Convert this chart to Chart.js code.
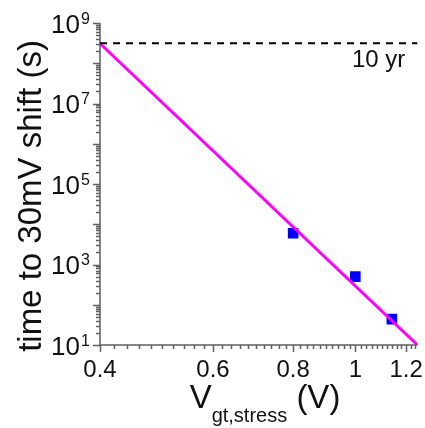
<!DOCTYPE html>
<html>
<head>
<meta charset="utf-8">
<script src="https://cdn.jsdelivr.net/npm/chart.js@4.4.1/dist/chart.umd.min.js"></script>
<style>
  html, body { margin: 0; padding: 0; background: #fff; }
  #wrap { width: 425px; height: 428px; }
</style>
</head>
<body>
<div id="wrap"><canvas id="myChart" width="425" height="428"></canvas></div>
<script>
// measured stress voltages and time to a 30 mV shift
const stressV = [0.8, 1.0, 1.14];
const shiftTime = [6000, 500, 44];

// power-law fit, extrapolated down to low voltage
const fitV = [0.4, 1.25];
const fitTime = [3.1e8, 10];

// ten years in seconds
const tenYears = 3.156e8;

// axis ticks
const xMajor = [0.4, 0.6, 0.8, 1, 1.2];
const yLabelPowers = [1, 3, 5, 7, 9];
const xRange = [0.4, 1.25];
const yRange = [1e1, 1e9];

const FONT = "'Liberation Sans', Arial, sans-serif";
const AXIS_COLOR = '#5f5f5f';

function pts(xs, ys) {
    return xs.map((x, i) => ({ x: x, y: ys[i] }));
}

// hand-drawn axes: log ticks, superscript labels, subscripted title
const axesPlugin = {
    id: 'axes',
    beforeDatasetsDraw(chart) {
        const ctx = chart.ctx;
        const xs = chart.scales.x, ys = chart.scales.y;
        const a = chart.chartArea;
        ctx.save();
        ctx.strokeStyle = AXIS_COLOR;
        ctx.lineWidth = 1.5;

        // axis lines
        ctx.beginPath();
        ctx.moveTo(a.left, a.top);
        ctx.lineTo(a.left, a.bottom);
        ctx.lineTo(a.right, a.bottom);
        ctx.stroke();

        // y ticks: every decade plus 2..9
        ctx.beginPath();
        for (let p = 1; p <= 9; p++) {
            for (let k = 1; k <= 9; k++) {
                const v = k * Math.pow(10, p);
                if (v > yRange[1]) break;
                const y = Math.round(ys.getPixelForValue(v)) + 0.5;
                const len = k === 1 ? 7 : 4;
                ctx.moveTo(a.left, y);
                ctx.lineTo(a.left - len, y);
            }
        }
        // x ticks every 0.02, longer on the labelled values
        for (let i = 20; i <= 62; i++) {
            const v = i / 50;
            const x = Math.round(xs.getPixelForValue(v)) + 0.5;
            const major = i % 10 === 0;
            ctx.moveTo(x, a.bottom);
            ctx.lineTo(x, a.bottom + (major ? 7 : 4));
        }
        ctx.stroke();

        ctx.fillStyle = '#111';

        // y labels 10^n
        yLabelPowers.forEach(p => {
            const y = ys.getPixelForValue(Math.pow(10, p));
            ctx.font = '26px ' + FONT;
            ctx.textAlign = 'right';
            ctx.textBaseline = 'alphabetic';
            ctx.fillText('10', 80, y + 9.5);
            ctx.font = '16px ' + FONT;
            ctx.textAlign = 'left';
            ctx.fillText(String(p), 81, y + 0.5);
        });

        // x labels
        ctx.font = '24px ' + FONT;
        ctx.textAlign = 'center';
        xMajor.forEach(v => {
            ctx.fillText(String(v), xs.getPixelForValue(v), 377);
        });

        // y title
        ctx.save();
        ctx.translate(41, 196);
        ctx.rotate(-Math.PI / 2);
        ctx.font = '33px ' + FONT;
        ctx.textAlign = 'center';
        ctx.fillText('time to 30mV shift (s)', 0, 0);
        ctx.restore();

        // x title: V with subscript, then unit
        ctx.textAlign = 'left';
        const big = '33px ' + FONT, small = '20px ' + FONT;
        ctx.font = big;
        const wV = ctx.measureText('V').width;
        const wU = ctx.measureText(' (V)').width;
        ctx.font = small;
        const wS = ctx.measureText('gt,stress').width;
        let x0 = 265 - (wV + wS + wU) / 2;
        ctx.font = big;
        ctx.fillText('V', x0, 408);
        ctx.font = small;
        ctx.fillText('gt,stress', x0 + wV, 422);
        ctx.font = big;
        ctx.fillText(' (V)', x0 + wV + wS, 408);

        // ten year marker text
        ctx.font = '24px ' + FONT;
        ctx.fillText('10 yr', 352, 67);
        ctx.restore();
    }
};

var ctx = document.getElementById('myChart').getContext('2d');
var myChart = new Chart(ctx, {
    type: 'scatter',
    data: {
        datasets: [
            {
                label: '10 yr',
                data: pts(xRange, [tenYears, tenYears]),
                showLine: true,
                borderColor: '#000',
                borderWidth: 2,
                borderDash: [7, 6],
                pointRadius: 0
            },
            {
                label: 'fit',
                data: pts(fitV, fitTime),
                showLine: true,
                borderColor: '#ff00ff',
                borderWidth: 3,
                pointRadius: 0
            },
            {
                label: 'data',
                data: pts(stressV, shiftTime),
                pointStyle: 'rect',
                pointRadius: 7.5,
                backgroundColor: '#0000ff',
                borderColor: '#0000ff',
                borderWidth: 0
            }
        ]
    },
    options: {
        responsive: false,
        animation: false,
        layout: { padding: { left: 100, right: 5, top: 23, bottom: 83 } },
        plugins: { legend: { display: false }, tooltip: { enabled: false } },
        scales: {
            x: { type: 'logarithmic', min: xRange[0], max: xRange[1], display: false },
            y: { type: 'logarithmic', min: yRange[0], max: yRange[1], display: false }
        }
    },
    plugins: [axesPlugin]
});
</script>
</body>
</html>
